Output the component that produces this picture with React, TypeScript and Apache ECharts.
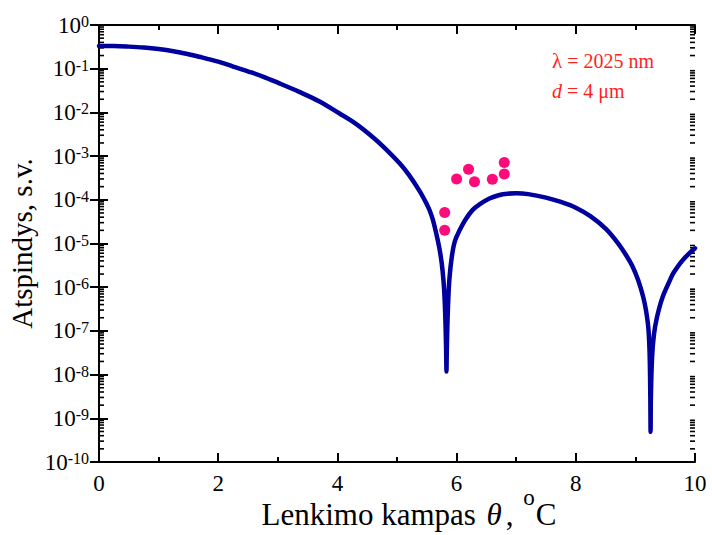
import React, { useEffect, useRef } from "react";
import * as echarts from "echarts";

// Angle (deg) and reflectance
const curveTheta = [
  0, 0.25, 0.5, 0.75, 1.0, 1.25, 1.5, 1.68, 2.0, 2.25, 2.52, 2.75, 3.0, 3.36, 3.7, 4.03, 4.3, 4.59, 4.8,
  5.04, 5.2, 5.38, 5.5, 5.55, 5.6, 5.65, 5.71, 5.75, 5.78, 5.8, 5.815, 5.825, 5.83, 5.835, 5.845, 5.86, 5.88,
  5.92, 5.97, 6.05, 6.15, 6.27, 6.39, 6.55, 6.72, 6.85, 7.0, 7.2, 7.5, 7.75, 8.0, 8.25, 8.5, 8.7, 8.85,
  8.95, 9.05, 9.13, 9.18, 9.22, 9.24, 9.25, 9.255, 9.26, 9.28, 9.31, 9.36, 9.45, 9.58, 9.64, 9.8, 10,
];
const curveValue = [
  0.331, 0.33, 0.32, 0.305, 0.282, 0.251, 0.214, 0.188, 0.145, 0.112, 0.0851, 0.0661, 0.0479, 0.0295, 0.0178,
  0.00955, 0.00562, 0.00275, 0.00151, 6.92e-4, 3.72e-4, 1.58e-4, 7.94e-5, 5.62e-5, 3.55e-5, 1.91e-5, 7.94e-6,
  3.55e-6, 1.41e-6, 5.01e-7, 1.26e-7, 3.16e-8, 1.17e-8, 3.16e-8, 1.26e-7, 5.01e-7, 1.58e-6, 5.01e-6, 1.12e-5,
  2.0e-5, 3.55e-5, 5.89e-5, 7.94e-5, 1.07e-4, 1.29e-4, 1.38e-4, 1.41e-4, 1.35e-4, 1.12e-4, 8.91e-5, 6.61e-5,
  4.17e-5, 2.19e-5, 1.05e-5, 5.25e-6, 3.02e-6, 1.41e-6, 6.03e-7, 2.82e-7, 1.05e-7, 2.51e-8, 3.16e-9,
  4.9e-10, 3.16e-9, 2.51e-8, 8.0e-8, 2.0e-7, 5.62e-7, 1.45e-6, 2.14e-6, 4.27e-6, 7.76e-6,
];

// Measured points
const pointTheta = [5.8, 5.8, 6.0, 6.2, 6.3, 6.6, 6.8, 6.8];
const pointValue = [5.1e-5, 2.0e-5, 3.0e-4, 5.0e-4, 2.6e-4, 2.95e-4, 7.1e-4, 3.9e-4];

// Axis ranges / tick labels
const xMin = 0;
const xMax = 10;
const xInterval = 2;
const yMin = 1e-10;
const yMax = 1;
const yTickExponents = [0, -1, -2, -3, -4, -5, -6, -7, -8, -9, -10];
const minorDecades = [-10, -9, -8, -7, -6, -5, -4, -3, -2, -1];
const minorMultipliers = [2, 3, 4, 5, 6, 7, 8, 9];

const FONT = "Liberation Serif";

export default function App() {
  const ref = useRef<HTMLDivElement>(null);

  useEffect(() => {
    if (!ref.current) return;
    const chart = echarts.init(ref.current, null, { renderer: "svg" });

    const minorVals: number[][] = [];
    minorDecades.forEach((d) =>
      minorMultipliers.forEach((m) => minorVals.push([0, m * Math.pow(10, d)]))
    );

    const yLabel = (v: number) => {
      const e = Math.round(Math.log10(v));
      const idx = yTickExponents.indexOf(e);
      return idx >= 0 ? `{b|10}{s|${yTickExponents[idx]}}` : "";
    };

    const xAxisCommon = {
      type: "value" as const,
      min: xMin,
      max: xMax,
      interval: xInterval,
      axisLine: { show: true, lineStyle: { color: "#000", width: 2 } },
      axisTick: { show: true, inside: true, length: 9, lineStyle: { color: "#000", width: 2 } },
      minorTick: { show: true, splitNumber: 2, length: 5, lineStyle: { color: "#000", width: 2 } },
      splitLine: { show: false },
      minorSplitLine: { show: false },
    };
    const yAxisCommon = {
      type: "log" as const,
      logBase: 10,
      min: yMin,
      max: yMax,
      interval: 1,
      axisLine: { show: true, lineStyle: { color: "#000", width: 2 } },
      axisTick: { show: true, inside: true, length: 9, lineStyle: { color: "#000", width: 2 } },
      splitLine: { show: false },
    };

    chart.setOption({
      animation: false,
      backgroundColor: "#fff",
      textStyle: { fontFamily: FONT },
      grid: { left: 99, right: 17, top: 25, bottom: 73, containLabel: false, outerBoundsMode: "none" },
      xAxis: [
        {
          ...xAxisCommon,
          position: "bottom",
          axisLabel: { show: true, color: "#000", fontSize: 23, fontFamily: FONT, margin: 10 },
          name: "{n|Lenkimo kampas }{i|θ}{n|, }{s|o}{n|C}",
          nameLocation: "middle",
          nameGap: 24,
          nameMoveOverlap: false,
          nameTextStyle: {
            color: "#000",
            fontSize: 31,
            fontFamily: FONT,
            padding: [0, 0, 0, 24],
            rich: {
              n: { fontSize: 31, fontFamily: FONT, lineHeight: 31, verticalAlign: "bottom", color: "#000" },
              i: { fontSize: 31, fontStyle: "italic", fontFamily: FONT, lineHeight: 31, verticalAlign: "bottom", padding: [0, 4, 0, 3], color: "#000" },
              s: { fontSize: 23, fontFamily: FONT, lineHeight: 44, verticalAlign: "top", padding: [0, 1, 0, 2], color: "#000" },
            },
          },
        },
        {
          ...xAxisCommon,
          position: "top",
          axisLabel: { show: false },
        },
      ],
      yAxis: [
        {
          ...yAxisCommon,
          position: "left",
          axisLabel: {
            show: true,
            color: "#000",
            fontSize: 23,
            fontFamily: FONT,
            margin: 10,
            formatter: yLabel,
            rich: {
              b: { fontSize: 23, fontFamily: FONT, lineHeight: 23, verticalAlign: "bottom", color: "#000" },
              s: { fontSize: 16, fontFamily: FONT, lineHeight: 16, verticalAlign: "top", padding: [0, 0, 8, 0], color: "#000" },
            },
          },
          name: "Atspindys, s.v.",
          nameLocation: "middle",
          nameGap: 63,
          nameMoveOverlap: false,
          nameTextStyle: { color: "#000", fontSize: 29, fontFamily: FONT },
        },
        {
          ...yAxisCommon,
          position: "right",
          axisLabel: { show: false },
        },
      ],
      series: [
        {
          type: "custom",
          name: "minorTicks",
          xAxisIndex: 0,
          yAxisIndex: 0,
          silent: true,
          clip: false,
          z: 1,
          data: minorVals,
          renderItem: (params: any, api: any) => {
            const v = api.value(1);
            const pl = api.coord([xMin, v]);
            const pr = api.coord([xMax, v]);
            const st = { stroke: "#000", lineWidth: 1.6 };
            return {
              type: "group",
              children: [
                { type: "line", shape: { x1: pl[0], y1: pl[1], x2: pl[0] + 5, y2: pl[1] }, style: st },
                { type: "line", shape: { x1: pr[0], y1: pr[1], x2: pr[0] - 5, y2: pr[1] }, style: st },
              ],
            };
          },
        },
        {
          type: "line",
          name: "curve",
          data: curveTheta.map((t, i) => [t, curveValue[i]]),
          showSymbol: false,
          smooth: 0.35,
          z: 3,
          lineStyle: { color: "#00009E", width: 4.5, cap: "round", join: "round" },
        },
        {
          type: "scatter",
          name: "points",
          data: pointTheta.map((t, i) => [t, pointValue[i]]),
          symbol: "circle",
          symbolSize: 11,
          z: 4,
          itemStyle: { color: "#FF0A7A", opacity: 1 },
        },
      ],
      graphic: [
        {
          type: "text",
          left: 552,
          top: 50,
          style: {
            text: "{l|λ} = 2025 nm",
            fill: "#FF1E1E",
            fontSize: 20,
            fontFamily: FONT,
            rich: { l: { fontSize: 21, fontFamily: FONT, fill: "#FF1E1E" } as any },
          },
        },
        {
          type: "text",
          left: 552,
          top: 81,
          style: {
            text: "{i|d} = 4 μm",
            fill: "#FF1E1E",
            fontSize: 20,
            fontFamily: FONT,
            rich: { i: { fontSize: 20, fontStyle: "italic", fontFamily: FONT, fill: "#FF1E1E" } as any },
          },
        },
      ],
    });

    return () => chart.dispose();
  }, []);

  return (
    <div
      ref={ref}
      style={{ position: "fixed", left: 0, top: 0, width: 712, height: 535, background: "#fff" }}
    />
  );
}
